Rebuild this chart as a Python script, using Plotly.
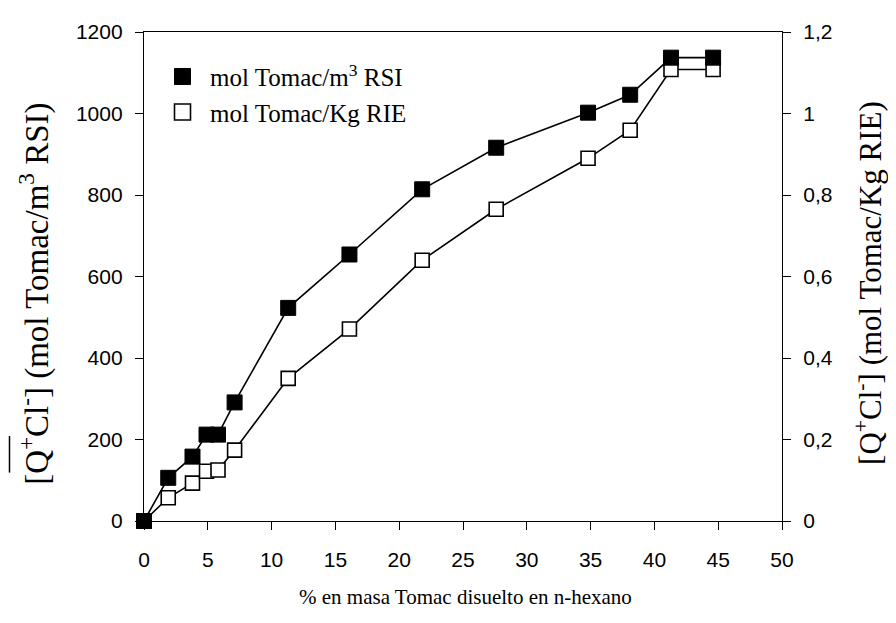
import plotly.graph_objects as go

# ---- data ----
x_pct = [0, 1.9, 3.8, 4.9, 5.8, 7.1, 11.3, 16.1, 21.8, 27.6, 34.8, 38.1, 41.3, 44.6]
rsi_mol_m3 = [0, 106, 158, 212, 212, 291, 523, 654, 814, 916, 1002, 1046, 1137, 1137]
rie_mol_kg = [0, 0.057, 0.093, 0.122, 0.125, 0.174, 0.350, 0.471, 0.640, 0.765, 0.890, 0.959, 1.108, 1.108]

x_ticks = [0, 5, 10, 15, 20, 25, 30, 35, 40, 45, 50]
left_ticks = [0, 200, 400, 600, 800, 1000, 1200]
right_ticks = [0, 0.2, 0.4, 0.6, 0.8, 1.0, 1.2]
right_ticklabels = ["0", "0,2", "0,4", "0,6", "0,8", "1", "1,2"]

name_rsi = "mol Tomac/m<sup>3</sup> RSI"
name_rie = "mol Tomac/Kg RIE"

SANS = "Liberation Sans, Arial, sans-serif"
SERIF = "Liberation Serif, Times New Roman, serif"

OFF = 8  # default body margin of the page (keep page free of scrollbars)
W, H = 896 - 2 * OFF, 623 - 2 * OFF
L, T = 144 - OFF, 26 - OFF
PW, PH = 638, 495
R, B = W - L - PW, H - T - PH


def px(xp):
    return (xp - OFF - L) / PW


def py(yp):
    return (OFF + T + PH - yp) / PH


fig = go.Figure()

fig.add_trace(go.Scatter(
    x=x_pct, y=rie_mol_kg, name=name_rie, yaxis="y", mode="lines+markers",
    line=dict(color="black", width=1.6),
    marker=dict(symbol="square", size=14, color="white", line=dict(color="black", width=1.6)),
    cliponaxis=False, showlegend=False,
))
fig.add_trace(go.Scatter(
    x=x_pct, y=rsi_mol_m3, name=name_rsi, yaxis="y2", mode="lines+markers",
    line=dict(color="black", width=1.6),
    marker=dict(symbol="square", size=15, color="black", line=dict(color="black", width=1)),
    cliponaxis=False, showlegend=False,
))
# legend entries (markers only, like the reference legend)
fig.add_trace(go.Scatter(
    x=[None], y=[None], name=name_rsi, yaxis="y2", mode="markers",
    marker=dict(symbol="square", size=16, color="black", line=dict(color="black", width=1)),
    legendrank=1,
))
fig.add_trace(go.Scatter(
    x=[None], y=[None], name=name_rie, yaxis="y", mode="markers",
    marker=dict(symbol="square", size=16, color="white", line=dict(color="black", width=1.6)),
    legendrank=2,
))

axis_common = dict(showgrid=False, zeroline=False, linecolor="black", linewidth=1.3,
                   tickcolor="black", tickwidth=1.3, ticklen=8,
                   tickfont=dict(family=SANS, size=21, color="black"))

fig.update_layout(
    width=W, height=H,
    margin=dict(l=L, r=R, t=T, b=B),
    paper_bgcolor="white", plot_bgcolor="white",
    showlegend=True,
    legend=dict(x=px(155), y=py(48), xanchor="left", yanchor="top",
                bgcolor="rgba(0,0,0,0)", borderwidth=0,
                font=dict(family=SERIF, size=25, color="black"),
                itemwidth=45, tracegroupgap=0),
    xaxis=dict(range=[0, 50], tickvals=x_ticks, ticks="outside", showline=True,
               mirror=True, ticklabelstandoff=12, **axis_common),
    yaxis=dict(range=[0, 1.2], side="right", tickvals=right_ticks, ticktext=right_ticklabels,
               ticks="outside", showline=True, ticklabelstandoff=8, anchor="x", **axis_common),
    yaxis2=dict(range=[0, 1200], side="left", overlaying="y", tickvals=left_ticks,
                ticks="outside", showline=True, ticklabelstandoff=8, anchor="x", **axis_common),
    yaxis3=dict(range=[0, 1.2], side="right", overlaying="y", tickvals=right_ticks,
                ticks="inside", showline=False, showticklabels=False, anchor="x",
                showgrid=False, zeroline=False, tickcolor="black", tickwidth=1.3, ticklen=8),
)

# axis titles as annotations
fig.add_annotation(
    text="[Q<sup>+</sup>Cl<sup>-</sup>] (mol Tomac/m<sup>3</sup> RSI)",
    xref="paper", yref="paper", x=px(35), y=py(291), xanchor="center", yanchor="middle",
    textangle=-90, showarrow=False, font=dict(family=SERIF, size=33, color="black"))
fig.add_annotation(
    text="[Q<sup>+</sup>Cl<sup>-</sup>] (mol Tomac/Kg RIE)",
    xref="paper", yref="paper", x=px(869), y=py(280), xanchor="center", yanchor="middle",
    textangle=-90, showarrow=False, font=dict(family=SERIF, size=31, color="black"))
fig.add_annotation(
    text="% en masa Tomac disuelto en n-hexano",
    xref="paper", yref="paper", x=px(465), y=py(598), xanchor="center", yanchor="middle",
    showarrow=False, font=dict(family=SERIF, size=21, color="black"))

# overline over Q+Cl- on the left title
fig.add_shape(type="line", xref="paper", yref="paper",
              x0=px(9.5), x1=px(9.5), y0=py(435), y1=py(472),
              line=dict(color="black", width=1.5))

fig.write_html("out.html")
